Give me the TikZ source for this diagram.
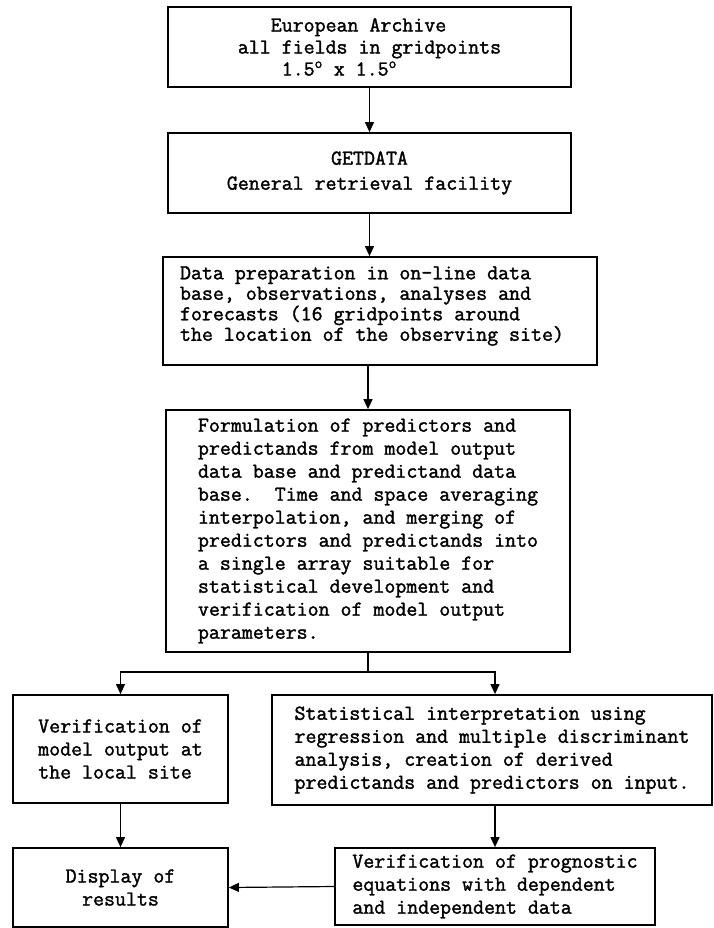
\documentclass[tikz,border=0pt]{standalone}
\usepackage{fontspec}
\newfontfamily\boxfont{Latin Modern Mono}[FakeBold=1.6]
\usetikzlibrary{arrows.meta}

\begin{document}
\begin{tikzpicture}[x=1pt,y=-1pt,>={Triangle[length=10pt,width=9pt]},box/.style={draw,line width=1.8pt,inner sep=0pt,align=left,font=\fontsize{21.3}{23}\selectfont\boxfont},boxtext/.style={inner sep=0pt,align=left,font=\fontsize{21.3}{20.5}\selectfont\boxfont},link/.style={->,line width=1.2pt}]
\useasboundingbox[fill=white] (0,0) rectangle (713,928);
\node[box,minimum width=403,minimum height=80,font=\fontsize{21.3}{22}\selectfont\boxfont] (archive) at (369.5,47) {\phantom{xxx}European Archive\\all fields in gridpoints\\\phantom{xxxx}1.5\textsuperscript{o} x 1.5\textsuperscript{o}};
\node[box,minimum width=403,minimum height=80,align=center,font=\fontsize{21.3}{25}\selectfont\boxfont] (getdata) at (369.5,173) {GETDATA\\General retrieval facility};
\node[box,minimum width=434,minimum height=108] (prep) at (380,311) {};
\node[boxtext] (preptext) at (372,306) {Data preparation in on-line data\\base, observations, analyses and\\forecasts (16 gridpoints around\\the location of the observing site)};
\node[box,minimum width=404,minimum height=242] (formul) at (368,531) {Formulation of predictors and\\predictands from model output\\data base and predictand data\\base.\ \ Time and space averaging\\interpolation, and merging of\\predictors and predictands into\\a single array suitable for\\statistical development and\\verification of model output\\parameters.};
\node[box,minimum width=215,minimum height=108] (verloc) at (120.5,749) {Verification of\\model output at\\the local site};
\node[box,minimum width=440,minimum height=110] (statint) at (492,750) {Statistical interpretation using\\regression and multiple discriminant\\analysis, creation of derived\\predictands and predictors on input.};
\node[box,minimum width=215,minimum height=79,align=center] (display) at (120.5,887.5) {Display of\\results};
\node[box,minimum width=320,minimum height=77] (progn) at (495,886.5) {Verification of prognostic\\equations with dependent\\and independent data};
\coordinate (fork) at (368,672);
\draw[link] (archive.south) -- (getdata.north); \draw[link] (getdata.south) -- (getdata.south |- prep.north); \draw[link] (formul.north |- prep.south) -- (formul.north);
\draw[link] (formul.south) -- (fork) -| (verloc.north); \draw[link] (fork) -| (progn.north |- statint.north);
\draw[link] (verloc.south) -- (display.north); \draw[link] (progn.north |- statint.south) -- (progn.north); \draw[link] (progn.west) -- (display.east);
\end{tikzpicture}
\end{document}
